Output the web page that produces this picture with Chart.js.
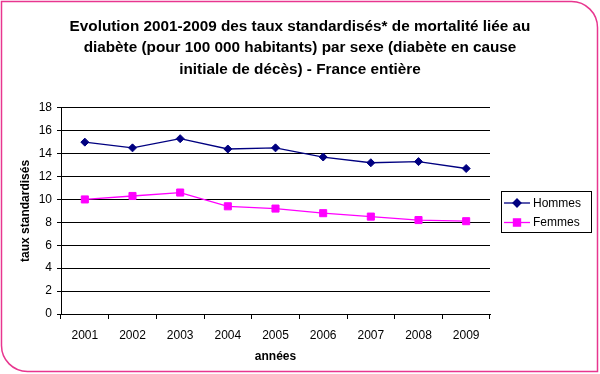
<!DOCTYPE html>
<html>
<head>
<meta charset="utf-8">
<script src="https://cdn.jsdelivr.net/npm/chart.js@4/dist/chart.umd.min.js"></script>
<style>
  body { margin: 0; background: #fff; }
  canvas { display: block; }
</style>
</head>
<body>
<canvas id="myChart" width="600" height="374"></canvas>
<script>
// données
var years = ["2001", "2002", "2003", "2004", "2005", "2006", "2007", "2008", "2009"];
var hommes = [15.0, 14.5, 15.3, 14.4, 14.5, 13.7, 13.2, 13.3, 12.7];
var femmes = [10.0, 10.3, 10.6, 9.4, 9.2, 8.8, 8.5, 8.2, 8.1];
var seriesNames = ["Hommes", "Femmes"];
var seriesColors = ["#000080", "#ff00ff"];
var titleLines = [
  "Evolution 2001-2009 des taux standardisés* de mortalité liée au",
  "diabète (pour 100 000 habitants) par sexe (diabète en cause",
  "initiale de décès) - France entière"
];

var FONT = "'Liberation Sans', Arial, sans-serif";

// cadre rose avec deux coins arrondis
var framePlugin = {
  id: "frame",
  beforeDraw: function (chart) {
    var ctx = chart.ctx;
    var r = 26;
    var l = 1.5, t = 1.5, rt = 597.5, b = 371.5;
    ctx.save();
    ctx.fillStyle = "#fff";
    ctx.fillRect(0, 0, chart.width, chart.height);
    ctx.beginPath();
    ctx.moveTo(l, t);
    ctx.lineTo(rt - r, t);
    ctx.arcTo(rt, t, rt, t + r, r);
    ctx.lineTo(rt, b);
    ctx.lineTo(l + r, b);
    ctx.arcTo(l, b, l, b - r, r);
    ctx.closePath();
    ctx.strokeStyle = "#e8368f";
    ctx.lineWidth = 1.5;
    ctx.stroke();
    ctx.restore();
  }
};

// légende façon Excel : trait + marqueur, dans une boîte
var legendPlugin = {
  id: "boxLegend",
  afterDraw: function (chart) {
    var ctx = chart.ctx;
    var x = 501.5, y = 191.5, w = 90, h = 41;
    ctx.save();
    ctx.fillStyle = "#fff";
    ctx.fillRect(x, y, w, h);
    ctx.strokeStyle = "#000";
    ctx.lineWidth = 1;
    ctx.strokeRect(x, y, w, h);
    chart.data.datasets.forEach(function (ds, i) {
      var cy = 203 + i * 19.5;
      ctx.strokeStyle = ds.borderColor;
      ctx.lineWidth = 1.3;
      ctx.beginPath();
      ctx.moveTo(504, cy);
      ctx.lineTo(530, cy);
      ctx.stroke();
      Chart.helpers.drawPoint(ctx, {
        pointStyle: ds.pointStyle,
        radius: ds.pointRadius,
        borderWidth: 1
      }, 517, cy);
      ctx.fillStyle = ds.borderColor;
      ctx.fill();
      ctx.fillStyle = "#000";
      ctx.font = "12px " + FONT;
      ctx.textBaseline = "middle";
      ctx.fillText(ds.label, 533, cy + 0.5);
    });
    ctx.restore();
  }
};

new Chart("myChart", {
  type: "line",
  data: {
    labels: years,
    datasets: [{
      label: seriesNames[0],
      data: hommes,
      borderColor: seriesColors[0],
      backgroundColor: seriesColors[0],
      borderWidth: 1.3,
      pointStyle: "rectRot",
      pointRadius: 4,
      pointBorderWidth: 1
    }, {
      label: seriesNames[1],
      data: femmes,
      borderColor: seriesColors[1],
      backgroundColor: seriesColors[1],
      borderWidth: 1.3,
      pointStyle: "rect",
      pointRadius: 5,
      pointBorderWidth: 1
    }]
  },
  options: {
    responsive: false,
    animation: false,
    layout: { padding: 0 },
    plugins: {
      legend: { display: false },
      tooltip: { enabled: false },
      title: {
        display: true,
        text: titleLines,
        color: "#000",
        font: { family: FONT, size: 15.3, weight: "bold", lineHeight: 1.4 },
        padding: { top: 16, bottom: 27.5 }
      }
    },
    scales: {
      x: {
        offset: true,
        grid: {
          offset: true,
          drawOnChartArea: false,
          drawTicks: true,
          tickLength: 5,
          color: "#000"
        },
        border: { color: "#000", width: 1 },
        ticks: {
          color: "#000",
          font: { family: FONT, size: 12 },
          padding: 9,
          maxRotation: 0
        },
        title: {
          display: true,
          text: "années",
          color: "#000",
          font: { family: FONT, size: 12, weight: "bold", lineHeight: 1.2 },
          padding: { top: 0, bottom: 10 }
        },
        afterFit: function (s) { s.height = 60; }
      },
      y: {
        min: 0,
        max: 18,
        ticks: {
          stepSize: 2,
          color: "#000",
          font: { family: FONT, size: 12 },
          padding: 5
        },
        grid: {
          color: "#000",
          lineWidth: 1,
          drawTicks: true,
          tickLength: 4
        },
        border: { color: "#000", width: 1 },
        title: {
          display: true,
          text: "taux standardisés",
          color: "#000",
          font: { family: FONT, size: 12, weight: "bold", lineHeight: 1.2 },
          padding: { top: 18, bottom: 0 }
        },
        afterFit: function (s) { s.width = 61; }
      },
      // axe vide à droite pour laisser la place à la légende
      yRight: {
        position: "right",
        display: true,
        grid: { display: false },
        border: { display: false },
        ticks: { display: false },
        afterFit: function (s) { s.width = 110; }
      }
    }
  },
  plugins: [framePlugin, legendPlugin]
});
</script>
</body>
</html>
